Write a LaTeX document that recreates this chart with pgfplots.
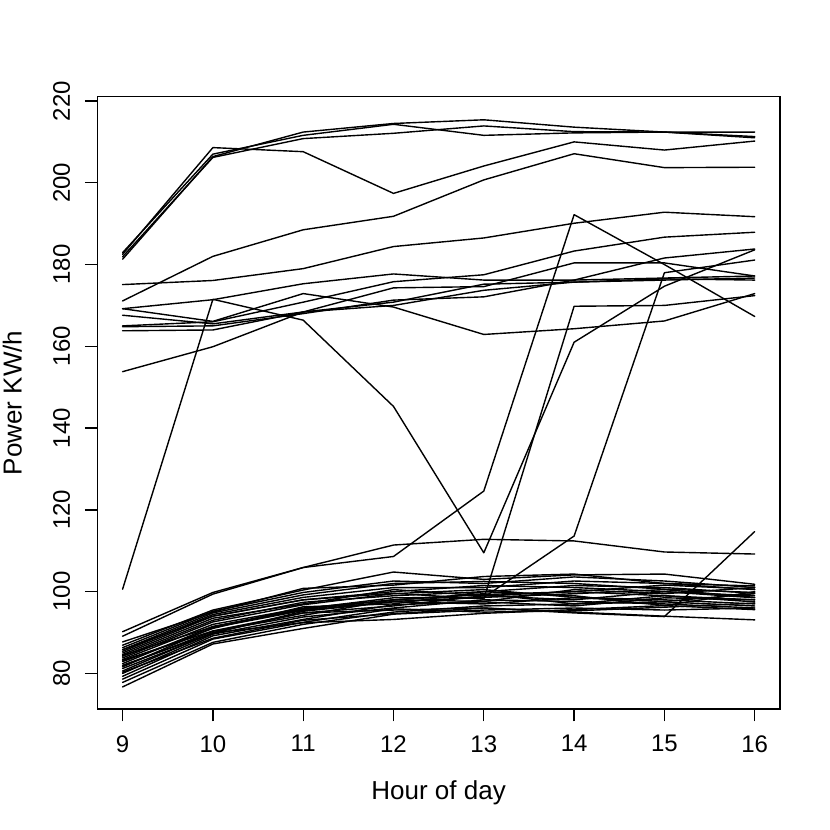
\documentclass[border=0pt]{standalone}
\usepackage{fontspec}
\setmainfont{Liberation Sans}
\usepackage{pgfplots}
\pgfplotsset{compat=1.18}
\begin{document}
\fontsize{12pt}{14pt}\selectfont
\begin{tikzpicture}
\begin{axis}[
  name=ax,
  scale only axis, width=341.35pt, height=306.15pt,
  xmin=8.72, xmax=16.28, ymin=71.3, ymax=221.05,
  xtick={9,10,11,12,13,14,15,16}, ytick={80,100,120,140,160,180,200,220},
  tick pos=left, tick align=outside, major tick length=6.2pt,
  axis line style={line width=0.65pt},
  every tick/.style={black, line width=0.65pt},
  /pgf/number format/assume math mode=true,
  xticklabel style={anchor=north, inner sep=0pt},
  yticklabel style={rotate=90, anchor=base, inner sep=0pt},
  xticklabel shift=6.8pt, yticklabel shift=7.45pt,
  xlabel={Hour of day}, ylabel={Power KW/h},
  label style={font=\fontsize{13pt}{15pt}\selectfont},
  xlabel style={at={(axis description cs:0.5,-0.1475)}, anchor=base, inner sep=0pt},
  ylabel style={at={(axis description cs:-0.1107,0.5)}, anchor=base, inner sep=0pt},
  cycle list={{black, solid, mark=none}},
  every axis plot post/.append style={black, solid, line width=0.7pt, mark=none, line join=round, line cap=round},
]
% upper group
\addplot coordinates {(9,182.5)(10,208.6)(11,207.6)(12,197.4)(13,204.1)(14,210.0)(15,208.0)(16,210.2)};
\addplot coordinates {(9,181.3)(10,206.4)(11,212.4)(12,214.5)(13,215.4)(14,213.6)(15,212.4)(16,211.3)};
\addplot coordinates {(9,182.9)(10,207.0)(11,211.6)(12,214.3)(13,211.6)(14,212.2)(15,212.4)(16,212.4)};
\addplot coordinates {(9,181.9)(10,206.2)(11,210.8)(12,212.1)(13,213.9)(14,212.5)(15,212.4)(16,211.0)};
\addplot coordinates {(9,171.1)(10,182.0)(11,188.5)(12,191.8)(13,200.7)(14,207.1)(15,203.7)(16,203.8)};
\addplot coordinates {(9,175.1)(10,176.1)(11,179.0)(12,184.4)(13,186.5)(14,190.1)(15,192.8)(16,191.7)};
\addplot coordinates {(9,169.2)(10,171.4)(11,175.3)(12,177.7)(13,176.2)(14,176.2)(15,176.7)(16,177.2)};
\addplot coordinates {(9,169.2)(10,166.1)(11,172.9)(12,169.6)(13,162.9)(14,164.3)(15,166.2)(16,172.9)};
\addplot coordinates {(9,165.0)(10,166.0)(11,170.8)(12,175.8)(13,177.5)(14,183.3)(15,186.7)(16,187.9)};
\addplot coordinates {(9,163.8)(10,164.0)(11,168.4)(12,174.3)(13,174.6)(14,180.4)(15,180.4)(16,177.2)};
\addplot coordinates {(9,164.8)(10,165.0)(11,168.0)(12,171.3)(13,172.1)(14,176.2)(15,181.6)(16,183.8)};
\addplot coordinates {(9,167.6)(10,165.5)(11,168.4)(12,170.8)(13,175.2)(14,175.7)(15,176.5)(16,176.2)};
\addplot coordinates {(9,153.8)(10,159.9)(11,168.4)(12,170.0)(13,173.7)(14,175.7)(15,176.2)(16,176.7)};
\addplot coordinates {(9,100.6)(10,171.5)(11,166.4)(12,145.3)(13,109.5)(14,161.0)(15,174.7)(16,183.6)};
\addplot coordinates {(9,89.1)(10,99.4)(11,105.9)(12,108.6)(13,124.6)(14,192.2)(15,180.0)(16,167.3)};
\addplot coordinates {(9,90.2)(10,99.8)(11,105.9)(12,111.4)(13,112.8)(14,112.4)(15,109.7)(16,109.2)};
% lower group
\addplot coordinates {(9,76.7)(10,87.2)(11,91.0)(12,94.5)(13,95.5)(14,96.0)(15,95.5)(16,96.0)};
\addplot coordinates {(9,77.8)(10,87.6)(11,92.0)(12,95.0)(13,96.5)(14,97.0)(15,97.5)(16,96.5)};
\addplot coordinates {(9,78.6)(10,88.4)(11,92.5)(12,95.8)(13,95.0)(14,95.3)(15,96.2)(16,97.2)};
\addplot coordinates {(9,79.3)(10,89.2)(11,93.2)(12,96.8)(13,97.5)(14,96.5)(15,98.5)(16,98.0)};
\addplot coordinates {(9,80.0)(10,89.6)(11,93.8)(12,96.0)(13,98.0)(14,97.6)(15,97.0)(16,96.0)};
\addplot coordinates {(9,80.6)(10,90.0)(11,94.8)(12,96.5)(13,99.0)(14,98.0)(15,100.0)(16,99.0)};
\addplot coordinates {(9,81.2)(10,89.8)(11,95.2)(12,97.5)(13,97.0)(14,98.5)(15,97.6)(16,99.5)};
\addplot coordinates {(9,81.8)(10,90.3)(11,94.2)(12,98.0)(13,99.5)(14,97.0)(15,99.0)(16,97.5)};
\addplot coordinates {(9,82.4)(10,91.5)(11,95.8)(12,98.5)(13,98.6)(14,99.5)(15,100.5)(16,98.6)};
\addplot coordinates {(9,82.9)(10,91.0)(11,96.3)(12,97.0)(13,100.0)(14,99.0)(15,96.6)(16,100.0)};
\addplot coordinates {(9,83.4)(10,92.0)(11,96.0)(12,98.0)(13,97.6)(14,100.5)(15,99.5)(16,101.0)};
\addplot coordinates {(9,83.8)(10,92.6)(11,96.8)(12,99.5)(13,100.5)(14,98.6)(15,98.0)(16,97.0)};
\addplot coordinates {(9,84.2)(10,93.0)(11,97.4)(12,99.0)(13,100.0)(14,101.5)(15,101.0)(16,99.6)};
\addplot coordinates {(9,84.6)(10,93.5)(11,97.0)(12,100.5)(13,99.0)(14,100.0)(15,101.6)(16,100.6)};
\addplot coordinates {(9,85.0)(10,94.0)(11,98.0)(12,100.0)(13,101.5)(14,101.0)(15,100.0)(16,98.5)};
\addplot coordinates {(9,85.4)(10,94.4)(11,98.6)(12,101.0)(13,101.0)(14,102.6)(15,102.0)(16,101.4)};
\addplot coordinates {(9,85.8)(10,94.8)(11,99.2)(12,102.0)(13,102.5)(14,102.0)(15,100.6)(16,99.8)};
\addplot coordinates {(9,86.3)(10,95.2)(11,99.8)(12,102.6)(13,102.0)(14,103.6)(15,102.6)(16,101.0)};
\addplot coordinates {(9,86.9)(10,95.5)(11,100.4)(12,104.8)(13,103.0)(14,104.1)(15,104.3)(16,101.8)};
\addplot coordinates {(9,87.7)(10,95.0)(11,100.8)(12,101.6)(13,103.7)(14,104.3)(15,102.0)(16,100.5)};
\addplot coordinates {(9,83.2)(10,90.4)(11,94.8)(12,95.5)(13,96.0)(14,95.0)(15,94.0)(16,93.1)};
\addplot coordinates {(9,82.0)(10,89.9)(11,92.4)(12,93.2)(13,94.7)(14,95.6)(15,96.6)(16,95.6)};
\addplot coordinates {(9,84.4)(10,91.4)(11,95.6)(12,98.0)(13,99.3)(14,100.0)(15,99.0)(16,98.0)};
\addplot coordinates {(9,80.3)(10,88.6)(11,93.0)(12,94.6)(13,96.0)(14,94.8)(15,93.9)(16,114.7)};
\addplot coordinates {(9,81.6)(10,91.2)(11,95.4)(12,97.6)(13,98.6)(14,113.6)(15,178.0)(16,181.1)};
\addplot coordinates {(9,85.8)(10,94.0)(11,98.0)(12,99.6)(13,98.2)(14,169.8)(15,170.0)(16,172.4)};
\end{axis}
\pgfresetboundingbox
\useasboundingbox ([shift={(-48.65pt,-60.5pt)}]ax.south west) rectangle ([shift={(366.35pt,354.5pt)}]ax.south west);
\end{tikzpicture}
\end{document}
